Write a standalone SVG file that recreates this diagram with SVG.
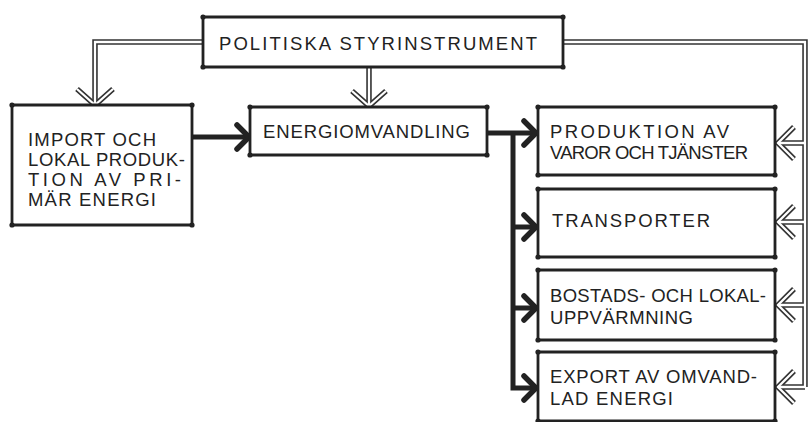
<svg xmlns="http://www.w3.org/2000/svg" width="808" height="422" viewBox="0 0 808 422">
<defs>
<marker id="dot" markerUnits="userSpaceOnUse" markerWidth="8" markerHeight="8" refX="4" refY="4"><circle cx="4" cy="4" r="2.6" fill="#222"/></marker>
<style>
.box{fill:#fff;stroke:#222;stroke-width:2.8;stroke-linejoin:miter;marker-start:url(#dot);marker-mid:url(#dot)}
.t{font-family:"Liberation Sans","DejaVu Sans",sans-serif;font-size:18.5px;fill:#222}
.dbo{fill:none;stroke:#333;stroke-width:5.5;stroke-linejoin:miter}
.dbi{fill:none;stroke:#fff;stroke-width:2.3;stroke-linejoin:miter}
.thick{fill:none;stroke:#222;stroke-width:5;stroke-linejoin:miter}
.head{fill:none;stroke:#222;stroke-width:5.5;stroke-linecap:round;stroke-linejoin:miter}
</style>
</defs>
<rect width="808" height="422" fill="#fff"/>
<g id="connectors">
<g id="double-lines">
<path class="dbo" d="M203 42H95V104M369 67V106M563 42H805V387M805 143H778M805 222H778M805 305H778M805 387H778"/>
<path class="dbo" d="M77 89L95 105L113 89M352 91L369 106L386 91M794 127L778 143L794 159M794 206L778 222L794 238M794 289L778 305L794 321M794 371L778 387L794 403"/>
<path class="dbi" d="M203 42H95V104M369 67V106M563 42H805V387M805 143H778M805 222H778M805 305H778M805 387H778"/>
<path class="dbi" d="M77 89L95 105L113 89M352 91L369 106L386 91M794 127L778 143L794 159M794 206L778 222L794 238M794 289L778 305L794 321M794 371L778 387L794 403"/>
</g>
<g id="thick-lines">
<path class="thick" d="M192 137H248M487 133H536M513 133V388H536M513 227H536M513 308H536"/>
<path class="head" d="M237 125L249 137L237 149M524 121L536 133L524 145M524 215L536 227L524 239M524 296L536 308L524 320M524 376L536 388L524 400"/>
</g>
</g>
<g id="politiska">
<path class="box" d="M203 17H563V67H203Z"/>
<text class="t" x="219" y="50" font-size="19.5" textLength="318">POLITISKA  STYRINSTRUMENT</text>
</g>
<g id="import">
<path class="box" d="M12 105H192V225H12Z"/>
<text class="t" x="28" y="146" textLength="128">IMPORT  OCH</text>
<text class="t" x="28" y="166" textLength="157">LOKAL PRODUK-</text>
<text class="t" x="28" y="186" textLength="153">TION  AV  PRI-</text>
<text class="t" x="28" y="206" textLength="128">MÄR  ENERGI</text>
</g>
<g id="energiomvandling">
<path class="box" d="M250 107H487V155H250Z"/>
<text class="t" x="263" y="138" textLength="207">ENERGIOMVANDLING</text>
</g>
<g id="produktion">
<path class="box" d="M538 107H775V175H538Z"/>
<text class="t" x="550" y="138" textLength="179">PRODUKTION  AV</text>
<text class="t" x="550" y="159" textLength="198">VAROR OCH TJÄNSTER</text>
</g>
<g id="transporter">
<path class="box" d="M538 189H775V257H538Z"/>
<text class="t" x="552" y="227" textLength="158">TRANSPORTER</text>
</g>
<g id="bostads">
<path class="box" d="M538 270H775V340H538Z"/>
<text class="t" x="550" y="302" textLength="216">BOSTADS-  OCH  LOKAL-</text>
<text class="t" x="550" y="324" textLength="143">UPPVÄRMNING</text>
</g>
<g id="export">
<path class="box" d="M538 352H775V421H538Z"/>
<text class="t" x="550" y="383" textLength="207">EXPORT  AV  OMVAND-</text>
<text class="t" x="550" y="405" textLength="123">LAD ENERGI</text>
</g>
</svg>
